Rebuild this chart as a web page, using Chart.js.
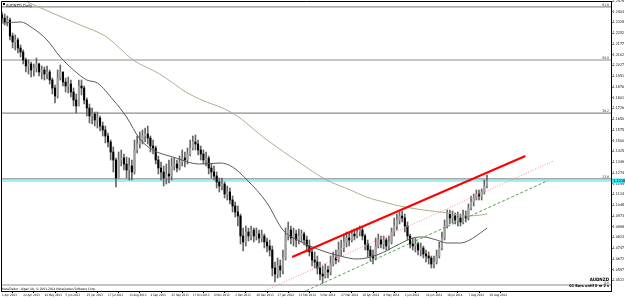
<!DOCTYPE html>
<html><head><meta charset="utf-8">
<script src="https://cdn.jsdelivr.net/npm/chart.js@4/dist/chart.umd.min.js"></script>
<style>html,body{margin:0;padding:0;background:#fff;}canvas{display:block;}</style>
</head><body>
<canvas id="c" width="625" height="299"></canvas>
<script>
const symbolTitle = 'AUDNZD,Daily';
const symbolName = 'AUDNZD';
const timerText = '01 Bars until 0 m 2 s';
const copyrightText = 'MetaTrader - Alpari UK, \u00A9 2001-2014 MetaQuotes Software Corp.';

// x labels: one every 16 trading days
const dateLabels = ["1 Apr 2013","22 Apr 2013","14 May 2013","5 Jun 2013","25 Jun 2013","17 Jul 2013","13 Aug 2013","4 Sep 2013","25 Sep 2013","17 Oct 2013","8 Nov 2013","2 Dec 2013","26 Dec 2013","17 Jan 2014","11 Feb 2014","3 Mar 2014","27 Mar 2014","16 Apr 2014","8 May 2014","2 Jun 2014","24 Jun 2014","16 Jul 2014","7 Aug 2014","29 Aug 2014"];
const labelEvery = 16;
const priceTicks = [1.2478,1.2403,1.2328,1.2252,1.2177,1.2102,1.2027,1.1951,1.1876,1.1801,1.1726,1.1650,1.1575,1.1500,1.1425,1.1349,1.1274,1.1199,1.1124,1.1048,1.0973,1.0898,1.0823,1.0747,1.0672,1.0597,1.0522];

// candles (every 2nd trading day)
const barStep = 2;
const firstOpen = 1.2380;
const barHigh = [1.2401,1.2387,1.2373,1.2359,1.2254,1.2240,1.2219,1.2170,1.2135,1.2079,
1.2065,1.2051,1.2037,1.2079,1.2044,1.2023,1.2016,1.2023,1.1995,1.1939,
1.1890,1.1995,1.2030,1.1981,1.1939,1.1946,1.1925,1.1869,1.1827,1.1925,
1.1925,1.1883,1.1799,1.1757,1.1729,1.1701,1.1701,1.1673,1.1631,1.1603,
1.1554,1.1505,1.1456,1.1379,1.1421,1.1435,1.1407,1.1386,1.1379,1.1365,
1.1505,1.1533,1.1561,1.1575,1.1589,1.1603,1.1533,1.1505,1.1463,1.1393,
1.1351,1.1323,1.1337,1.1365,1.1379,1.1379,1.1365,1.1393,1.1435,1.1421,
1.1449,1.1505,1.1533,1.1540,1.1505,1.1463,1.1435,1.1421,1.1393,1.1337,
1.1323,1.1281,1.1239,1.1239,1.1211,1.1183,1.1169,1.1113,1.1071,1.1043,
1.0987,1.0889,1.0903,1.0889,1.0903,1.0889,1.0889,1.0875,1.0875,1.0847,
1.0819,1.0805,1.0763,1.0651,1.0679,1.0665,1.0735,1.0889,1.0931,1.0903,
1.0889,1.0875,1.0882,1.0875,1.0861,1.0833,1.0805,1.0749,1.0721,1.0693,
1.0651,1.0623,1.0637,1.0623,1.0693,1.0721,1.0735,1.0791,1.0805,1.0847,
1.0861,1.0861,1.0875,1.0882,1.0889,1.0903,1.0896,1.0847,1.0805,1.0763,
1.0735,1.0819,1.0847,1.0833,1.0833,1.0819,1.0833,1.0889,1.0959,1.0987,
1.1001,1.1008,1.0987,1.0931,1.0847,1.0819,1.0819,1.0791,1.0784,1.0763,
1.0735,1.0721,1.0693,1.0693,1.0735,1.0791,1.0861,1.0945,1.1015,1.1015,
1.1008,1.0994,1.1001,1.0987,1.1015,1.1008,1.1057,1.1113,1.1127,1.1155,
1.1155,1.1162,1.1225,1.1260];
const barLow = [1.2331,1.2310,1.2303,1.2205,1.2149,1.2135,1.2114,1.2086,1.2037,1.1981,
1.1967,1.1946,1.1953,1.1981,1.1953,1.1932,1.1925,1.1932,1.1897,1.1827,
1.1764,1.1799,1.1925,1.1883,1.1841,1.1834,1.1806,1.1743,1.1694,1.1743,
1.1820,1.1757,1.1673,1.1624,1.1617,1.1603,1.1589,1.1568,1.1533,1.1484,
1.1456,1.1365,1.1281,1.1176,1.1239,1.1323,1.1295,1.1239,1.1225,1.1225,
1.1267,1.1414,1.1449,1.1477,1.1491,1.1477,1.1421,1.1407,1.1337,1.1267,
1.1225,1.1183,1.1197,1.1204,1.1225,1.1295,1.1281,1.1295,1.1323,1.1316,
1.1337,1.1393,1.1435,1.1435,1.1400,1.1365,1.1337,1.1323,1.1267,1.1239,
1.1225,1.1169,1.1141,1.1155,1.1099,1.1085,1.1057,1.1001,1.0966,1.0903,
1.0777,1.0728,1.0763,1.0798,1.0805,1.0791,1.0805,1.0784,1.0791,1.0749,
1.0721,1.0693,1.0553,1.0511,1.0539,1.0546,1.0567,1.0665,1.0805,1.0777,
1.0763,1.0756,1.0777,1.0791,1.0770,1.0721,1.0693,1.0623,1.0609,1.0567,
1.0525,1.0504,1.0539,1.0539,1.0560,1.0623,1.0637,1.0651,1.0693,1.0721,
1.0756,1.0763,1.0791,1.0805,1.0819,1.0833,1.0805,1.0735,1.0686,1.0658,
1.0637,1.0665,1.0749,1.0749,1.0742,1.0735,1.0735,1.0777,1.0833,1.0875,
1.0917,1.0931,1.0861,1.0805,1.0749,1.0735,1.0721,1.0700,1.0693,1.0679,
1.0651,1.0637,1.0609,1.0609,1.0637,1.0679,1.0735,1.0805,1.0889,1.0917,
1.0924,1.0917,1.0903,1.0903,1.0917,1.0931,1.0945,1.1015,1.1043,1.1085,
1.1085,1.1085,1.1127,1.1169];
const barClose = [1.2359,1.2331,1.2345,1.2233,1.2191,1.2205,1.2149,1.2121,1.2065,1.2023,
1.2037,1.1995,1.2009,1.2037,1.1981,1.1995,1.1967,1.1981,1.1925,1.1869,
1.1813,1.1939,1.1981,1.1911,1.1883,1.1897,1.1841,1.1785,1.1743,1.1883,
1.1869,1.1785,1.1729,1.1673,1.1687,1.1645,1.1659,1.1603,1.1575,1.1533,
1.1491,1.1421,1.1365,1.1239,1.1365,1.1379,1.1337,1.1295,1.1323,1.1281,
1.1435,1.1477,1.1505,1.1533,1.1547,1.1519,1.1463,1.1449,1.1365,1.1309,
1.1281,1.1239,1.1267,1.1253,1.1323,1.1337,1.1309,1.1351,1.1379,1.1365,
1.1407,1.1449,1.1491,1.1477,1.1435,1.1407,1.1365,1.1379,1.1309,1.1281,
1.1253,1.1211,1.1183,1.1197,1.1127,1.1141,1.1085,1.1043,1.1001,1.0973,
1.0833,1.0791,1.0861,1.0833,1.0875,1.0833,1.0847,1.0819,1.0833,1.0791,
1.0763,1.0735,1.0609,1.0567,1.0623,1.0595,1.0679,1.0833,1.0875,1.0819,
1.0847,1.0805,1.0833,1.0847,1.0805,1.0763,1.0721,1.0665,1.0651,1.0609,
1.0567,1.0553,1.0595,1.0581,1.0637,1.0679,1.0665,1.0735,1.0749,1.0791,
1.0819,1.0805,1.0847,1.0833,1.0861,1.0875,1.0833,1.0777,1.0735,1.0693,
1.0679,1.0763,1.0805,1.0777,1.0805,1.0763,1.0791,1.0861,1.0903,1.0945,
1.0973,1.0959,1.0903,1.0833,1.0777,1.0763,1.0777,1.0735,1.0749,1.0707,
1.0693,1.0679,1.0637,1.0651,1.0693,1.0749,1.0819,1.0903,1.0987,1.0959,
1.0973,1.0945,1.0959,1.0931,1.0973,1.0959,1.1029,1.1071,1.1099,1.1127,
1.1113,1.1141,1.1183,1.1218];

// moving averages (bar index, price)
const maFastIdx = [0,14,23,34,44,54,64,72,84,94,104,114,129,149,165,174,185,200,212,223,240,255,268,283,300,310,318,328,336,346,353,361,366];
const maFast = [1.2324,1.2331,1.2289,1.2205,1.2086,1.1995,1.1925,1.1904,1.1785,1.1666,1.1512,1.1435,1.1386,1.1337,1.1344,1.1316,1.1225,1.1064,1.0875,1.0805,1.0735,1.0693,1.0672,1.0700,1.0777,1.0819,1.0826,1.0805,1.0784,1.0784,1.0805,1.0854,1.0889];
const maSlowIdx = [0,19,38,59,79,99,119,140,149,174,200,225,245,263,275,291,300,318,336,351,361,366];
const maSlow = [1.2545,1.2471,1.2394,1.2310,1.2226,1.2065,1.1967,1.1834,1.1792,1.1694,1.1505,1.1344,1.1225,1.1155,1.1106,1.1064,1.1043,1.1015,1.0994,1.0973,1.0980,1.0987];

// trend lines (bar index, price)
const redLineIdx = [219, 395];
const redLinePrice = [1.0686, 1.1393];
const pinkLineIdx = [193, 416];
const pinkLinePrice = [1.0428, 1.1357];
const greenLineIdx = [216, 412];
const greenLinePrice = [1.0393, 1.1221];

// fibonacci levels and bid
const fibLevels = [0, 23.6, 38.2, 50, 61.8];
const fibPrices = [1.0490, 1.1233, 1.1693, 1.2065, 1.2437];
const bidPrice = 1.1218;

const NARROW = "'Liberation Sans Narrow','DejaVu Sans Condensed','Liberation Sans',sans-serif";
const barOpen = barClose.map((c, j) => j === 0 ? firstOpen : barClose[j - 1]);
const wickData = barClose.map((c, j) => ({x: j * barStep, y: [barLow[j], barHigh[j]]}));
const bodyData = barClose.map((c, j) => ({x: j * barStep, y: [Math.min(barOpen[j], c), Math.max(barOpen[j], c)]}));
const bodyColors = barClose.map((c, j) => c >= barOpen[j] ? '#a0a0a0' : '#000000');
const pts = (idx, vals) => idx.map((x, i) => ({x, y: vals[i]}));

const datasets = [
  {type:'line', data: pts(redLineIdx, redLinePrice), borderColor:'#ff0000', borderWidth:2, pointRadius:0, order:0},
  {type:'line', data: pts(pinkLineIdx, pinkLinePrice), borderColor:'#ff8c8c', borderWidth:1, borderDash:[1,1.6], pointRadius:0, order:0},
  {type:'line', data: pts(greenLineIdx, greenLinePrice), borderColor:'#4aa84a', borderWidth:1, borderDash:[3,2], pointRadius:0, order:0},
  {type:'line', data: pts(maFastIdx, maFast), borderColor:'#5a5a5a', borderWidth:1, pointRadius:0, cubicInterpolationMode:'monotone', order:1},
  {type:'line', data: pts(maSlowIdx, maSlow), borderColor:'#b2ac8e', borderWidth:1, pointRadius:0, cubicInterpolationMode:'monotone', order:1},
  {type:'bar', data: bodyData, backgroundColor: bodyColors, barThickness:1.4, grouped:false, minBarLength:1, borderWidth:0, order:2},
  {type:'bar', data: wickData, backgroundColor:'#666666', barThickness:1, grouped:false, borderWidth:0, order:3},
];
fibPrices.forEach(p => datasets.push({type:'line', data:[{x:-5,y:p},{x:470,y:p}], borderColor:'#8e8e8e', borderWidth:1.2, pointRadius:0, order:4}));
datasets.push({type:'line', data:[{x:-5,y:bidPrice},{x:470,y:bidPrice}], borderColor:'#3ee3f2', borderWidth:1, pointRadius:0, order:4});

const overlay = {
  id:'overlay',
  afterDraw(chart){
    const {ctx, chartArea:a, scales:{y}} = chart;
    ctx.save();
    ctx.strokeStyle = '#000'; ctx.lineWidth = 1;
    ctx.beginPath();
    ctx.moveTo(a.left + 0.5, a.bottom); ctx.lineTo(a.left + 0.5, a.top + 0.5); ctx.lineTo(a.right, a.top + 0.5);
    ctx.stroke();
    ctx.fillStyle = '#000';
    ctx.fillRect(a.left + 2, a.top + 2, 2, 2);
    ctx.textAlign = 'left'; ctx.textBaseline = 'alphabetic';
    ctx.font = `4px ${NARROW}`;
    ctx.fillText(symbolTitle, a.left + 5, a.top + 5.5);
    ctx.font = `3.2px ${NARROW}`;
    ctx.fillText(copyrightText, a.left + 1, a.bottom - 1.5);
    ctx.textAlign = 'right';
    ctx.font = `3.4px ${NARROW}`; ctx.fillStyle = '#222';
    fibLevels.forEach((lv, i) => {
      const py = y.getPixelForValue(fibPrices[i]);
      ctx.fillText(lv.toFixed(1), a.right - 2, py - 1);
    });
    ctx.fillStyle = '#000';
    ctx.font = `bold 4.5px ${NARROW}`;
    ctx.fillText(symbolName, a.right - 2, a.bottom - 10);
    ctx.font = `bold 3.8px ${NARROW}`;
    ctx.fillText(timerText, a.right - 2, a.bottom - 4);
    const by = y.getPixelForValue(bidPrice);
    ctx.fillStyle = '#3ee3f2';
    ctx.fillRect(a.right + 1, by - 2.5, 14, 5);
    ctx.fillStyle = '#000'; ctx.textAlign = 'left'; ctx.textBaseline = 'middle';
    ctx.font = `3.7px ${NARROW}`;
    ctx.fillText(bidPrice.toFixed(4), a.right + 2.5, by);
    ctx.restore();
  }
};

new Chart(document.getElementById('c'), {
  type:'line',
  data:{datasets},
  plugins:[overlay],
  options:{
    responsive:false, animation:false, devicePixelRatio:1, events:[],
    layout:{padding:{left:1, top:1, right:0, bottom:0}},
    plugins:{legend:{display:false}, tooltip:{enabled:false}},
    scales:{
      x:{type:'linear', position:'bottom', min:-0.755, max:459.6, offset:false,
        afterBuildTicks(s){ s.ticks = dateLabels.map((d,i)=>({value:i*labelEvery})); },
        afterFit(s){ s.height = 8; s.paddingLeft = 0; s.paddingRight = 0; },
        grid:{display:true, drawOnChartArea:false, drawTicks:true, tickLength:2, color:'#000'},
        border:{display:true, color:'#000', width:1},
        ticks:{autoSkip:false, maxRotation:0, minRotation:0, align:'start', padding:0, color:'#000',
          font:{family:NARROW, size:3},
          callback:(v)=> dateLabels[Math.round(v/labelEvery)]}
      },
      y:{type:'linear', position:'right', min:1.0448, max:1.2478,
        afterBuildTicks(s){ s.ticks = priceTicks.map(v=>({value:v})); },
        afterFit(s){ s.width = 14; s.paddingTop = 0; s.paddingBottom = 0; },
        grid:{display:true, drawOnChartArea:false, drawTicks:true, tickLength:1.5, color:'#000'},
        border:{display:true, color:'#000', width:1},
        ticks:{padding:0, color:'#000', font:{family:NARROW, size:3.7},
          callback:(v)=> Number(v).toFixed(4)}
      }
    }
  }
});
</script>
</body></html>
